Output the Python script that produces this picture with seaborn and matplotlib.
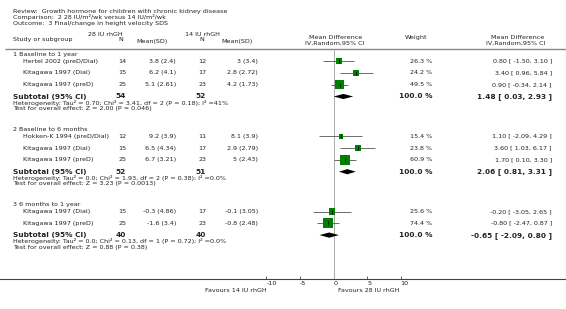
import numpy as np
import pandas as pd
import seaborn as sns
import matplotlib.pyplot as plt

# values
groups = ["1 Baseline to 1 year", "2 Baseline to 6 months", "3 6 months to 1 year"]
studies = [["Hertel 2002 (preD/Dial)", "Kitagawa 1997 (Dial)", "Kitagawa 1997 (preD)"],
           ["Hokken-K 1994 (preD/Dial)", "Kitagawa 1997 (Dial)", "Kitagawa 1997 (preD)"],
           ["Kitagawa 1997 (Dial)", "Kitagawa 1997 (preD)"]]
n_28 = [[14, 15, 25], [12, 15, 25], [15, 25]]
msd_28 = [["3.8 (2.4)", "6.2 (4.1)", "5.1 (2.61)"],
          ["9.2 (3.9)", "6.5 (4.34)", "6.7 (3.21)"],
          ["-0.3 (4.86)", "-1.6 (3.4)"]]
n_14 = [[12, 17, 23], [11, 17, 23], [17, 23]]
msd_14 = [["3 (3.4)", "2.8 (2.72)", "4.2 (1.73)"],
          ["8.1 (3.9)", "2.9 (2.79)", "5 (2.43)"],
          ["-0.1 (3.05)", "-0.8 (2.48)"]]
weight = [[26.3, 24.2, 49.5], [15.4, 23.8, 60.9], [25.6, 74.4]]
md = [[0.80, 3.40, 0.90], [1.10, 3.60, 1.70], [-0.20, -0.80]]
ci_lo = [[-1.50, 0.96, -0.34], [-2.09, 1.03, 0.10], [-3.05, -2.47]]
ci_hi = [[3.10, 5.84, 2.14], [4.29, 6.17, 3.30], [2.65, 0.87]]
sub_n28 = [54, 52, 40]
sub_n14 = [52, 51, 40]
sub_md = [1.48, 2.06, -0.65]
sub_lo = [0.03, 0.81, -2.09]
sub_hi = [2.93, 3.31, 0.80]
heterogeneity = ["Heterogeneity: Tau\u00b2 = 0.70; Chi\u00b2 = 3.41, df = 2 (P = 0.18); I\u00b2 =41%",
                 "Heterogeneity: Tau\u00b2 = 0.0; Chi\u00b2 = 1.93, df = 2 (P = 0.38); I\u00b2 =0.0%",
                 "Heterogeneity: Tau\u00b2 = 0.0; Chi\u00b2 = 0.13, df = 1 (P = 0.72); I\u00b2 =0.0%"]
overall = ["Test for overall effect: Z = 2.00 (P = 0.046)",
           "Test for overall effect: Z = 3.23 (P = 0.0013)",
           "Test for overall effect: Z = 0.88 (P = 0.38)"]
x_ticks = [-10, -5, 0, 5, 10]
x_labels = ["-10", "-5", "0", "5", "10"]

sns.set_theme(style="white")
plt.rcParams["font.family"] = ["DejaVu Sans"]

W, H = 566, 309
fig = plt.figure(figsize=(W / 100, H / 100), dpi=100)
fs, fsb = 4.6, 5.3
tc = "#222222"

# text layer in pixel units
tx = fig.add_axes([0, 0, 1, 1])
tx.set_xlim(0, W)
tx.set_ylim(H, 0)
tx.axis("off")

# forest layer: x in mean-difference units, y in pixel rows
ax = fig.add_axes([0, 0, 1, 1])
ax.patch.set_visible(False)
ax.set_xlim(-49.66, 34.62)
ax.set_ylim(H, 0)
for s in ["top", "left", "right"]:
    ax.spines[s].set_visible(False)
ax.spines["bottom"].set_position(("data", 279))
ax.spines["bottom"].set_color("#444444")
ax.spines["bottom"].set_linewidth(0.8)
ax.set_yticks([])
ax.set_xticks(x_ticks)
ax.set_xticklabels(x_labels)
ax.tick_params(axis="x", direction="in", length=2, width=0.6, color="#444444",
               labelsize=fs, labelcolor=tc, pad=1.5, bottom=True)
for lab in ax.get_xticklabels():
    lab.set_ha("left")

# header
tx.text(13, 11.5, "Review:  Growth hormone for children with chronic kidney disease", fontsize=fs, color=tc, va="center")
tx.text(13, 17.5, "Comparison:  2 28 IU/m\u00b2/wk versus 14 IU/m\u00b2/wk", fontsize=fs, color=tc, va="center")
tx.text(13, 23.8, "Outcome:  3 Final/change in height velocity SDS", fontsize=fs, color=tc, va="center")
tx.text(13, 39, "Study or subgroup", fontsize=fs, color=tc, va="center")
tx.text(88, 34.5, "28 IU rhGH", fontsize=fs, color=tc, va="center")
tx.text(121, 39.5, "N", fontsize=fs, color=tc, va="center", ha="center")
tx.text(168, 42, "Mean(SD)", fontsize=fs, color=tc, va="center", ha="right")
tx.text(185, 34.5, "14 IU rhGH", fontsize=fs, color=tc, va="center")
tx.text(202, 39.5, "N", fontsize=fs, color=tc, va="center", ha="center")
tx.text(253, 42, "Mean(SD)", fontsize=fs, color=tc, va="center", ha="right")
tx.text(336, 37.5, "Mean Difference", fontsize=fs, color=tc, va="center", ha="center")
tx.text(335, 43.5, "IV,Random,95% CI", fontsize=fs, color=tc, va="center", ha="center")
tx.text(416, 37.5, "Weight", fontsize=fs, color=tc, va="center", ha="center")
tx.text(518, 37.5, "Mean Difference", fontsize=fs, color=tc, va="center", ha="center")
tx.text(516, 43.5, "IV,Random,95% CI", fontsize=fs, color=tc, va="center", ha="center")
tx.hlines(48.5, 5, W, color="#888888", lw=1.0)
ax.vlines(0, 48.5, 279, color="#aaaaaa", lw=0.7, zorder=1)

# rows
rows = []
subs = []
y = 54.3
for g in range(len(groups)):
    tx.text(13, y, groups[g], fontsize=fs, color=tc, va="center")
    y += 6.8
    for i in range(len(studies[g])):
        rows.append(dict(y=y, study=studies[g][i], n28=n_28[g][i], m28=msd_28[g][i],
                         n14=n_14[g][i], m14=msd_14[g][i], weight=weight[g][i],
                         md=md[g][i], lo=ci_lo[g][i], hi=ci_hi[g][i]))
        y += 11.8
    subs.append(dict(y=y, n28=sub_n28[g], n14=sub_n14[g], md=sub_md[g], lo=sub_lo[g], hi=sub_hi[g]))
    tx.text(13, y + 6.3, heterogeneity[g], fontsize=fs, color=tc, va="center")
    tx.text(13, y + 12.0, overall[g], fontsize=fs, color=tc, va="center")
    y += 12.0 + 21

df = pd.DataFrame(rows)
sub = pd.DataFrame(subs)

for r in df.itertuples():
    tx.text(23, r.y, r.study, fontsize=fs, color=tc, va="center")
    tx.text(122.5, r.y, str(r.n28), fontsize=fs, color=tc, va="center", ha="center")
    tx.text(176, r.y, r.m28, fontsize=fs, color=tc, va="center", ha="right")
    tx.text(202.5, r.y, str(r.n14), fontsize=fs, color=tc, va="center", ha="center")
    tx.text(258, r.y, r.m14, fontsize=fs, color=tc, va="center", ha="right")
    tx.text(432.5, r.y, f"{r.weight:.1f} %", fontsize=fs, color=tc, va="center", ha="right")
    tx.text(552, r.y, f"{r.md:.2f} [ {r.lo:.2f}, {r.hi:.2f} ]", fontsize=fs, color=tc, va="center", ha="right")

for r in sub.itertuples():
    tx.text(13, r.y, "Subtotal (95% CI)", fontsize=fsb, color=tc, va="center", weight="bold")
    tx.text(121, r.y, str(r.n28), fontsize=fsb, color=tc, va="center", ha="center", weight="bold")
    tx.text(201, r.y, str(r.n14), fontsize=fsb, color=tc, va="center", ha="center", weight="bold")
    tx.text(432.5, r.y, "100.0 %", fontsize=fsb, color=tc, va="center", ha="right", weight="bold")
    tx.text(552, r.y, f"{r.md:.2f} [ {r.lo:.2f}, {r.hi:.2f} ]", fontsize=fsb, color=tc,
            va="center", ha="right", weight="bold")
    ax.fill([r.lo, r.md, r.hi, r.md], [r.y, r.y - 2.6, r.y, r.y + 2.6], color="black", lw=0, zorder=3)

# confidence intervals and weighted squares
ax.hlines(df["y"], df["lo"], df["hi"], color="#555555", lw=0.6, zorder=2)
wmin, wmax = df["weight"].min(), df["weight"].max()
sns.scatterplot(data=df, x="md", y="y", size="weight", sizes=(0.75 * wmin, 0.75 * wmax),
                size_norm=(wmin, wmax), marker="s", color="#008000", linewidth=0,
                legend=False, ax=ax, zorder=3)
ax.scatter(df["md"], df["y"], marker="|", s=5, color="black", linewidths=0.6, zorder=4)
ax.set_xlabel("")
ax.set_ylabel("")
ax.set_ylim(H, 0)

tx.text(267, 290, "Favours 14 IU rhGH", fontsize=fs, color=tc, va="center", ha="right")
tx.text(338, 290, "Favours 28 IU rhGH", fontsize=fs, color=tc, va="center", ha="left")

fig.savefig("out.png", dpi=100)
